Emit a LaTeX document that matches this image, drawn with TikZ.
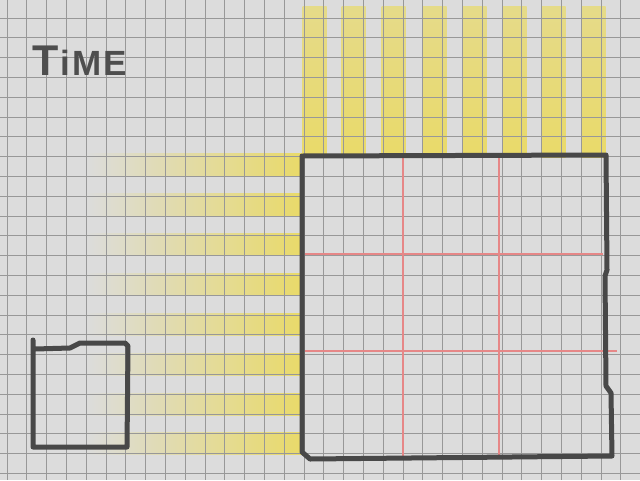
\documentclass[tikz,border=0pt]{standalone}
\usepackage{fontspec}
\setmainfont{Liberation Sans}
\definecolor{bgc}{RGB}{220,220,220}
\definecolor{gridc}{RGB}{152,152,152}
\definecolor{yel}{RGB}{233,218,105}
\definecolor{boxc}{RGB}{72,72,72}
\definecolor{redc}{RGB}{230,135,135}
\definecolor{txtc}{RGB}{78,78,78}
\tikzset{
  gridl/.style={draw=gridc, line width=0.75pt},
  redl/.style={draw=redc, line width=2.2pt},
  boxl/.style={draw=boxc, line width=5pt, line join=round, line cap=round},
}
\begin{document}
\begin{tikzpicture}[x=1pt,y=-1pt]
\useasboundingbox (0,0) rectangle (640,480);
\fill[bgc] (0,0) rectangle (640,480);
% top vertical stripes
\foreach \x in {302.7,341.7,381.7,422.7,462.7,502.7,541.7,581.7}
  \shade[top color=yel!72!bgc, bottom color=yel] (\x,6) rectangle ++(24,151);
% left horizontal stripes
\foreach \y in {153,193,233,273,313,353,393,432}
  \shade[left color=bgc, right color=yel] (85,\y) rectangle (302,\y+22);
% grid
\foreach \i in {0,...,32}
  \draw[gridl] ({7+19.8*\i},0) -- ({7+19.8*\i},480);
\foreach \j in {0,...,23}
  \draw[gridl] (0,{18+19.8*\j}) -- (640,{18+19.8*\j});
% red lines
\draw[redl] (403,157) -- (403,458);
\draw[redl] (499,157) -- (499,458);
\draw[redl] (305,254) -- (603,254);
\draw[redl] (305,351) -- (617,351);
% big box
\draw[boxl] (302,452) -- (302,156) -- (606,155) -- (607,270) -- (605,276) -- (606,386) -- (611,393) -- (612,456) -- (310,459) -- cycle;
% small box
\draw[boxl] (33,340) -- (33,447) -- (127,447) -- (128,346) -- (125,343) -- (80,343) -- (70,348) -- (35,349);
% title
\node[anchor=base west, text=txtc, inner sep=0pt] (time) at (32,75)
  {\bfseries\fontsize{43}{43}\selectfont T\kern2pt\fontsize{35}{35}\selectfont i\kern2pt M\kern2pt E};
\end{tikzpicture}
\end{document}
